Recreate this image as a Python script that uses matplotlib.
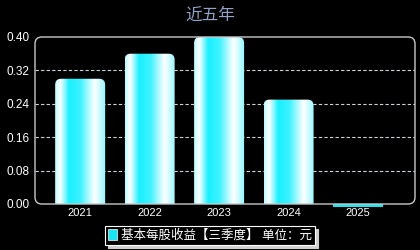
import numpy as np
import matplotlib
matplotlib.use("Agg")
import matplotlib.pyplot as plt
from matplotlib.patches import FancyBboxPatch, Rectangle, Patch
from matplotlib.colors import LinearSegmentedColormap

plt.rcParams['font.family'] = ['Liberation Sans', 'Noto Sans CJK SC', 'DejaVu Sans']

years = ['2021', '2022', '2023', '2024', '2025']
eps = [0.30, 0.36, 0.40, 0.25, -0.004]
yticks = [0.00, 0.08, 0.16, 0.24, 0.32, 0.40]
title = '近五年'
legend_label = '基本每股收益【三季度】 单位：元'

# horizontal gradient of the bars
grad = LinearSegmentedColormap.from_list('bar', [
    (0.00, '#b8fbff'), (0.10, '#ffffff'), (0.28, '#19f0ff'),
    (0.50, '#3ef2ff'), (0.78, '#ffffff'), (1.00, '#8ef7ff')])

fig = plt.figure(figsize=(4.2, 2.5), dpi=100, facecolor='black')
ax = fig.add_axes([35 / 420, 46 / 250, 380 / 420, 167 / 250])
ax.set_facecolor('black')
ax.set_xlim(-0.65, 4.82)
ax.set_ylim(0, 0.40)
for s in ax.spines.values():
    s.set_visible(False)

# rounded frame
frame = FancyBboxPatch((0, 0), 1, 1, boxstyle='round,pad=0,rounding_size=0.018',
                       mutation_aspect=380 / 167, transform=ax.transAxes,
                       fill=False, edgecolor='#c8c8c8', linewidth=1.0, clip_on=False, zorder=5)
ax.add_patch(frame)

for y in yticks[1:-1]:
    ax.axhline(y, color='#c8d4e0', linestyle=(0, (3, 2)), linewidth=0.8, zorder=1)

width = 0.72
xunit = 1 / 69.5
yunit = 0.4 / 167
gimg = np.linspace(0, 1, 256).reshape(1, -1)
for i, v in enumerate(eps):
    if v > 0:
        patch = FancyBboxPatch((i - width / 2, -0.03), width, v + 0.03,
                               boxstyle='round,pad=0,rounding_size=%f' % (6 * xunit),
                               mutation_aspect=yunit / xunit,
                               facecolor='none', edgecolor='none')
        ax.add_patch(patch)
        im = ax.imshow(gimg, cmap=grad, aspect='auto', zorder=2,
                       extent=(i - width / 2, i + width / 2, 0, v))
        im.set_clip_path(patch)
    else:
        ax.add_patch(Rectangle((i - width / 2, 0), width, min(v, -2.5 * yunit),
                               facecolor='#19e6f5', edgecolor='none', clip_on=False, zorder=2))

ax.set_xticks(range(len(years)))
ax.set_xticklabels(years, color='white', fontsize=8)
ax.set_yticks(yticks)
ax.set_yticklabels(['%.2f' % t for t in yticks], color='white', fontsize=8.5)
ax.tick_params(length=0, pad=4)
ax.tick_params(axis='x', pad=3)

fig.text(0.5, 0.94, title, color='#8ea4c8', fontsize=12, ha='center', va='center')

leg = fig.legend(handles=[Patch(facecolor='#19e6f5', edgecolor='white', linewidth=0.5)],
                 labels=[legend_label], loc='center', bbox_to_anchor=(0.5, 0.058),
                 facecolor='black', edgecolor='white',
                 shadow={'color': '#d0d0d0', 'ox': 2, 'oy': -2, 'alpha': 1},
                 fancybox=False, fontsize=9, handlelength=0.7, handleheight=0.9,
                 handletextpad=0.3, borderpad=0.25, borderaxespad=0, framealpha=1)
for t in leg.get_texts():
    t.set_color('white')
leg.get_frame().set_linewidth(0.8)

fig.savefig('out.png', dpi=100, facecolor='black')
